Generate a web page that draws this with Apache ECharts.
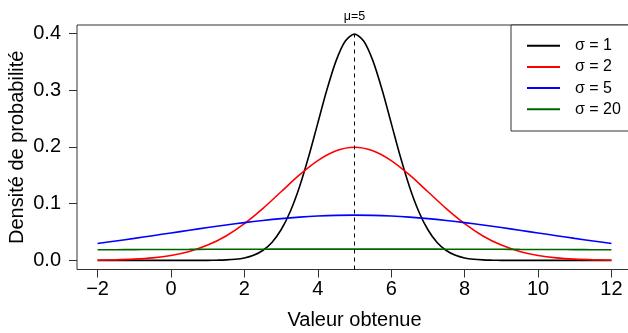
<!DOCTYPE html>
<html>
<head>
<meta charset="utf-8">
<script src="https://cdn.jsdelivr.net/npm/echarts@6/dist/echarts.min.js"></script>
<style>
  html, body { margin: 0; padding: 0; background: #fff; }
  #main { width: 628px; height: 333px; }
</style>
</head>
<body>
<div id="main"></div>
<script>
// valeurs (densités, mu = 5)
var xFine = [-2, -1.75, -1.5, -1.25, -1, -0.75, -0.5, -0.25, 0, 0.25, 0.5, 0.75,
  1, 1.25, 1.5, 1.75, 2, 2.25, 2.5, 2.75, 3, 3.25, 3.5, 3.75, 4, 4.25, 4.5, 4.75,
  5, 5.25, 5.5, 5.75, 6, 6.25, 6.5, 6.75, 7, 7.25, 7.5, 7.75, 8, 8.25, 8.5, 8.75,
  9, 9.25, 9.5, 9.75, 10, 10.25, 10.5, 10.75, 11, 11.25, 11.5, 11.75, 12];
var sigma1 = [0, 0, 0, 0, 0, 0, 0, 0, 0, 0, 0, 0,
  0.0001, 0.0004, 0.0009, 0.0020, 0.0044, 0.0091, 0.0175, 0.0317, 0.0540, 0.0863, 0.1295, 0.1826, 0.2420, 0.3011, 0.3521, 0.3867,
  0.3989, 0.3867, 0.3521, 0.3011, 0.2420, 0.1826, 0.1295, 0.0863, 0.0540, 0.0317, 0.0175, 0.0091, 0.0044, 0.0020, 0.0009, 0.0004,
  0.0001, 0, 0, 0, 0, 0, 0, 0, 0, 0, 0, 0, 0];

var xCoarse = [-2, -1.5, -1, -0.5, 0, 0.5, 1, 1.5, 2, 2.5, 3, 3.5, 4, 4.5, 5,
  5.5, 6, 6.5, 7, 7.5, 8, 8.5, 9, 9.5, 10, 10.5, 11, 11.5, 12];
var sigma2 = [0.0004, 0.0010, 0.0022, 0.0045, 0.0088, 0.0159, 0.0270, 0.0431, 0.0648, 0.0913, 0.1210, 0.1506, 0.1760, 0.1933, 0.1995,
  0.1933, 0.1760, 0.1506, 0.1210, 0.0913, 0.0648, 0.0431, 0.0270, 0.0159, 0.0088, 0.0045, 0.0022, 0.0010, 0.0004];
var sigma5 = [0.0299, 0.0343, 0.0388, 0.0436, 0.0484, 0.0532, 0.0579, 0.0625, 0.0666, 0.0704, 0.0737, 0.0763, 0.0782, 0.0794, 0.0798,
  0.0794, 0.0782, 0.0763, 0.0737, 0.0704, 0.0666, 0.0625, 0.0579, 0.0532, 0.0484, 0.0436, 0.0388, 0.0343, 0.0299];
var sigma20 = [0.0188, 0.0189, 0.0191, 0.0192, 0.0193, 0.0194, 0.0196, 0.0196, 0.0197, 0.0198, 0.0199, 0.0199, 0.0199, 0.0199, 0.0199,
  0.0199, 0.0199, 0.0199, 0.0199, 0.0198, 0.0197, 0.0196, 0.0196, 0.0194, 0.0193, 0.0192, 0.0191, 0.0189, 0.0188];

var xTicks = [-2, 0, 2, 4, 6, 8, 10, 12];
var yTicks = [0, 0.1, 0.2, 0.3, 0.4];
var mu = 5;
var muLine = [[5, -0.016], [5, 0.3989]];
var names = ['σ = 1', 'σ = 2', 'σ = 5', 'σ = 20'];
var colors = ['#000000', '#ff0000', '#0000ff', '#006400'];

function pairs(xs, ys) {
  var out = [];
  for (var i = 0; i < xs.length; i++) out.push([xs[i], ys[i]]);
  return out;
}

var font = '"Liberation Sans", Arial, Helvetica, sans-serif';
var chart = echarts.init(document.getElementById('main'), null, { renderer: 'canvas' });

function curve(name, data, color) {
  return {
    name: name,
    type: 'line',
    data: data,
    symbol: 'none',
    smooth: 0.3,
    lineStyle: { color: color, width: 1.6 },
    itemStyle: { color: color },
    z: 3
  };
}

var option = {
  animation: false,
  textStyle: { fontFamily: font },
  grid: {
    left: 77, top: 25, right: -4, bottom: 63.5,
    outerBoundsMode: 'none',
    containLabel: false,
    show: true, borderColor: '#333', borderWidth: 1
  },
  legend: {
    data: names,
    orient: 'vertical',
    left: 511,
    top: 25,
    padding: [12.7, 40, 13.7, 16],
    icon: 'rect',
    itemWidth: 33,
    itemHeight: 2,
    itemGap: 5.2,
    borderColor: '#333',
    borderWidth: 1,
    backgroundColor: '#fff',
    textStyle: { fontSize: 16, color: '#000', fontFamily: font, padding: [0, 0, 0, 10] }
  },
  xAxis: [{
    type: 'value',
    min: -2.56,
    max: 12.56,
    name: 'Valeur obtenue',
    nameLocation: 'middle',
    nameGap: 41,
    nameMoveOverlap: false,
    nameTextStyle: { fontSize: 20, color: '#000' },
    axisLine: { show: false, onZero: false },
    splitLine: { show: false },
    axisTick: { show: true, length: 8, customValues: xTicks, lineStyle: { color: '#333' } },
    axisLabel: {
      fontSize: 20, color: '#000', margin: 10, customValues: xTicks,
      formatter: function (v) { return v < 0 ? '\u2212' + Math.abs(v) : String(v); }
    }
  }, {
    type: 'value',
    position: 'top',
    min: -2.56,
    max: 12.56,
    axisLine: { show: false, onZero: false },
    splitLine: { show: false },
    axisTick: { show: false },
    axisLabel: {
      fontSize: 12.5, color: '#000', margin: 1.5, customValues: [mu],
      formatter: function () { return 'μ=' + mu; }
    }
  }],
  yAxis: {
    type: 'value',
    min: -0.016,
    max: 0.4149,
    name: 'Densité de probabilité',
    nameLocation: 'middle',
    nameGap: 50,
    nameMoveOverlap: false,
    nameTextStyle: { fontSize: 20, color: '#000' },
    axisLine: { show: false, onZero: false },
    splitLine: { show: false },
    axisTick: { show: true, length: 8, customValues: yTicks, lineStyle: { color: '#333' } },
    axisLabel: {
      fontSize: 20, color: '#000', margin: 16, customValues: yTicks,
      formatter: function (v) { return v.toFixed(1); }
    }
  },
  series: [
    curve(names[0], pairs(xFine, sigma1), colors[0]),
    curve(names[1], pairs(xCoarse, sigma2), colors[1]),
    curve(names[2], pairs(xCoarse, sigma5), colors[2]),
    curve(names[3], pairs(xCoarse, sigma20), colors[3]),
    {
      name: 'mu',
      type: 'line',
      data: muLine,
      symbol: 'none',
      lineStyle: { color: '#000', width: 1, type: [4, 4] },
      z: 4
    }
  ]
};

chart.setOption(option);
</script>
</body>
</html>
